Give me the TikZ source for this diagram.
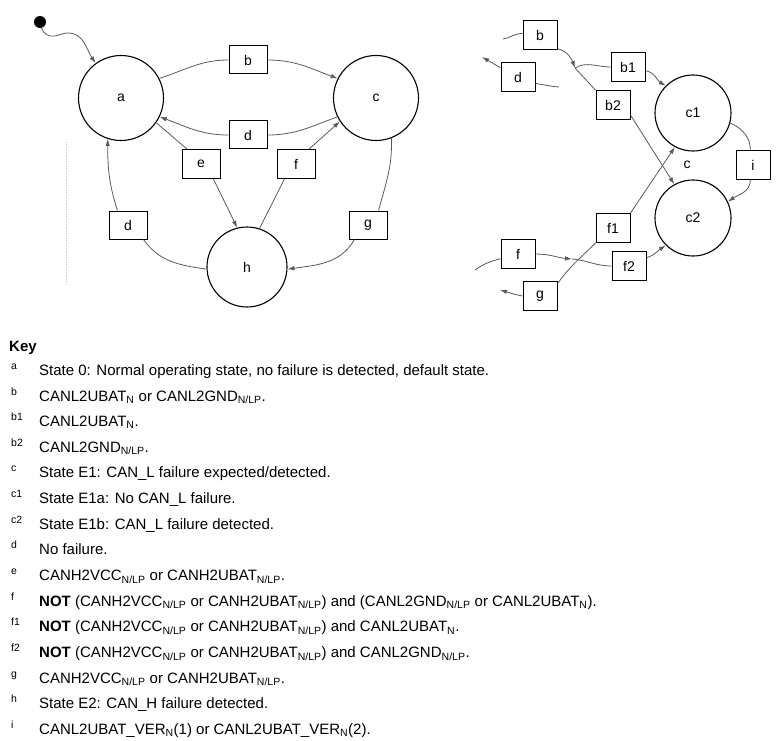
\documentclass[tikz,border=0pt]{standalone}
\usepackage{fontspec}
\setmainfont{Liberation Sans}
\usetikzlibrary{arrows.meta, positioning}

\newcommand{\nlp}{\textsubscript{N/LP}}
\newcommand{\subn}{\textsubscript{N}}

\tikzset{
  st/.style={circle, draw, line width=1.1pt, minimum size=85pt, inner sep=0pt},
  cond/.style={rectangle, draw, line width=1pt, minimum width=38pt,
    minimum height=28pt, inner sep=0pt, fill=white},
  condr/.style={cond, minimum width=34pt, minimum height=29pt},
  tr/.style={draw=black!65, line width=0.8pt},
  arr/.style={tr, -{Latex[length=7pt,width=4.5pt]}},
  keytxt/.style={anchor=base west, inner sep=0pt, font=\fontsize{15}{18}\selectfont},
  keytag/.style={anchor=base west, inner sep=0pt, font=\fontsize{10.5}{12}\selectfont}
}

\begin{document}
\begin{tikzpicture}[x=1pt, y=1pt, font=\fontsize{14}{17}\selectfont]
\useasboundingbox (0,0) rectangle (779,-741);

% left: main states
\node[circle, fill, minimum size=12pt, inner sep=0pt] (init) at (40,-22) {};
\node[st] (a) at (121,-98) {a};
\node[st] (c) at (376,-98) {c};
\node[st, minimum size=80pt] (h) at (247,-267) {h};

\node[cond] (b) at (248,-60) {b};
\node[cond] (d1) at (248,-135) {d};
\node[cond] (e) at (201,-164) {e};
\node[cond] (f) at (296,-164) {f};
\node[cond] (d2) at (128,-225) {d};
\node[cond] (g) at (368,-225) {g};

\coordinate (w1) at (55,-36);
\coordinate (w2) at (68,-33);

\draw[arr] (init) to[out=-75,in=190] (w1) to[out=10,in=180] (w2)
    to[out=0,in=125] (a.126);
\draw[tr] (a.27) to[out=18,in=180] (b.west);
\draw[arr] (b.east) to[out=0,in=160] (c.153);
\draw[tr] (c.206) to[out=200,in=0] (d1.east);
\draw[arr] (d1.west) to[out=180,in=-20] (a.-26);
\draw[tr] (a.-35) -- (e.133);
\draw[arr] (e.-50) -- (h.104);
\draw[tr] (h.72) -- (f.-128);
\draw[arr] (f.49) -- (c.213);
\draw[tr] (c.-69) to[out=-88,in=75] (g.54);
\draw[arr] (g.-133) to[out=-120,in=8] (h.-3);
\draw[tr] (h.183) to[out=172,in=-55] (d2.-43);
\draw[arr] (d2.126) to[out=108,in=-90] (a.252);

\draw[black!25, dotted, line width=0.4pt] (66,-142) -- (66,-285);

% right: state c in detail
\node[st, minimum size=76pt] (c1) at (693,-113) {c1};
\node[st, minimum size=76pt] (c2) at (693,-218) {c2};
\node (cl) at (687,-165) {c};

\node[condr] (rb) at (540,-35) {b};
\node[condr] (rd) at (518,-77) {d};
\node[condr] (b1) at (628,-67) {b1};
\node[condr] (b2) at (613,-105) {b2};
\node[condr] (i) at (753,-165) {i};
\node[condr] (f1) at (613,-228) {f1};
\node[condr] (rf) at (518,-254) {f};
\node[condr] (f2) at (629,-266) {f2};
\node[condr] (rg) at (540,-296) {g};

\coordinate (bin) at (503,-39);
\coordinate (jb) at (575,-68);
\coordinate (dfree) at (559,-87);
\coordinate (dout) at (482,-57);
\coordinate (fin) at (475,-270);
\coordinate (jf) at (572,-259);
\coordinate (gout) at (500,-290);

\draw[tr] (bin) to[out=10,in=180] (rb.175);
\draw[arr] (rb.-38) to[out=-15,in=110] (jb);
\draw[tr] (jb) to[out=30,in=180] (b1.west);
\draw[tr] (jb) -- (b2.north west);
\draw[arr] (b1.-12) to[out=-10,in=150] (c1.135);
\draw[arr] (b2.-30) -- (c2.119);
\draw[tr] (dfree) to[out=175,in=-10] (rd.-20);
\draw[arr] (rd.152) -- (dout);
\draw[tr] (c1.-15) to[out=-25,in=90] (i.100);
\draw[arr] (i.-100) to[out=-90,in=35] (c2.25);
\draw[tr] (fin) to[out=35,in=195] (rf.195);
\draw[arr] (rf.east) to[out=0,in=175] (jf);
\draw[tr] (jf) to[out=-5,in=180] (f2.west);
\draw[arr] (f2.25) to[out=20,in=215] (c2.225);
\draw[arr] (f1.north east) -- (c1.242);
\draw[tr] (rg.35) to[out=55,in=-135] (f1.south west);
\draw[arr] (rg.west) to[out=170,in=-15] (gout);

% key
\node[anchor=base west, inner sep=0pt, font=\bfseries\fontsize{15}{18}\selectfont]
    (key) at (9,-351.4) {Key};
\foreach \tg/\txt [count=\k from 0] in {
    a/{State 0: Normal operating state, no failure is detected, default state.},
    b/{CANL2UBAT\subn{} or CANL2GND\nlp.},
    b1/{CANL2UBAT\subn.},
    b2/{CANL2GND\nlp.},
    c/{State E1: CAN\_L failure expected/detected.},
    c1/{State E1a: No CAN\_L failure.},
    c2/{State E1b: CAN\_L failure detected.},
    d/{No failure.},
    e/{CANH2VCC\nlp{} or CANH2UBAT\nlp.},
    f/{\textbf{NOT} (CANH2VCC\nlp{} or CANH2UBAT\nlp) and (CANL2GND\nlp{} or CANL2UBAT\subn).},
    f1/{\textbf{NOT} (CANH2VCC\nlp{} or CANH2UBAT\nlp) and CANL2UBAT\subn.},
    f2/{\textbf{NOT} (CANH2VCC\nlp{} or CANH2UBAT\nlp) and CANL2GND\nlp.},
    g/{CANH2VCC\nlp{} or CANH2UBAT\nlp.},
    h/{State E2: CAN\_H failure detected.},
    i/{CANL2UBAT\_VER\subn(1) or CANL2UBAT\_VER\subn(2).}} {
  \node[keytxt] (k\tg) at (39,-375.4-25.64*\k) {\txt};
  \node[keytag] (t\tg) at (11,-369.4-25.64*\k) {\tg};
}
\end{tikzpicture}
\end{document}
